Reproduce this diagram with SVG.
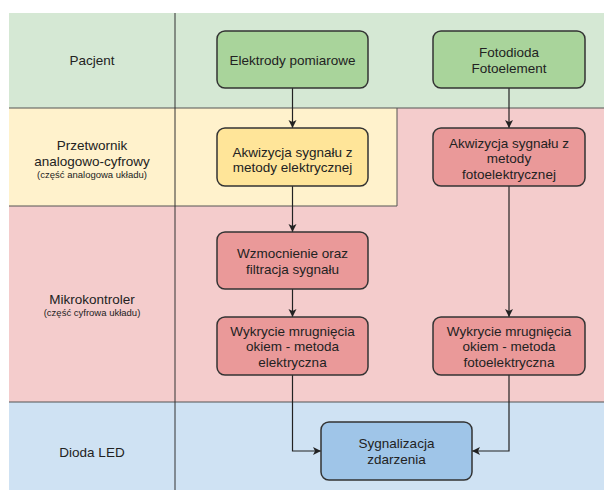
<svg xmlns="http://www.w3.org/2000/svg" width="604" height="490" viewBox="0 0 604 490">
<style>
text{font-family:"Liberation Sans",Arial,sans-serif;fill:#222;text-anchor:middle}
.t{font-size:13.5px}
.s{font-size:9.5px}
.box{stroke:#333;stroke-width:1.5}
.sep{stroke:#555;stroke-width:1;fill:none}
.c{stroke:#222;stroke-width:1.2;fill:none;marker-end:url(#a)}
</style>
<defs>
<marker id="a" markerWidth="10" markerHeight="10" refX="8" refY="4" orient="auto" markerUnits="userSpaceOnUse">
<path d="M0,0 L8,4 L0,8 L2,4 Z" fill="#222"/>
</marker>
</defs>
<rect width="604" height="490" fill="#fff"/>
<g id="lanes">
<rect x="9" y="13" width="595" height="95" fill="#d5e8d4"/>
<rect x="9" y="108" width="595" height="294" fill="#f4cccc"/>
<rect x="9" y="108" width="388" height="98" fill="#fff2cc"/>
<rect x="9" y="402" width="595" height="88" fill="#cfe2f3"/>
<line class="sep" x1="9" y1="108" x2="604" y2="108"/>
<path class="sep" d="M397,108 V206 H9"/>
<line class="sep" x1="9" y1="402" x2="604" y2="402"/>
<line x1="175" y1="13" x2="175" y2="490" stroke="#333" stroke-width="1"/>
<text class="t" x="92" y="65">Pacjent</text>
<text class="t" x="92" y="150">Przetwornik</text>
<text class="t" x="92" y="166">analogowo-cyfrowy</text>
<text class="s" x="92" y="178">(część analogowa układu)</text>
<text class="t" x="92" y="304">Mikrokontroler</text>
<text class="s" x="92" y="316">(część cyfrowa układu)</text>
<text class="t" x="92" y="457">Dioda LED</text>
</g>
<g id="connectors">
<path class="c" d="M292.5,88 V128"/>
<path class="c" d="M292.5,186 V232"/>
<path class="c" d="M292.5,289 V317"/>
<path class="c" d="M292.5,375 V451 H321"/>
<path class="c" d="M509,88 V128"/>
<path class="c" d="M509,186 V317"/>
<path class="c" d="M509,375 V451 H472"/>
</g>
<g id="n1">
<rect class="box" x="217" y="31" width="151" height="57" rx="8" fill="#a9d49b"/>
<text class="t" x="292.5" y="65">Elektrody pomiarowe</text>
</g>
<g id="n2">
<rect class="box" x="433" y="31" width="152" height="57" rx="8" fill="#a9d49b"/>
<text class="t" x="509" y="57">Fotodioda</text>
<text class="t" x="509" y="73">Fotoelement</text>
</g>
<g id="n3">
<rect class="box" x="217" y="128" width="151" height="58" rx="8" fill="#ffe599"/>
<text class="t" x="292.5" y="157">Akwizycja sygnału z</text>
<text class="t" x="292.5" y="172">metody elektrycznej</text>
</g>
<g id="n4">
<rect class="box" x="433" y="128" width="152" height="58" rx="8" fill="#ea9999"/>
<text class="t" x="509" y="148">Akwizycja sygnału z</text>
<text class="t" x="509" y="163">metody</text>
<text class="t" x="509" y="179">fotoelektrycznej</text>
</g>
<g id="n5">
<rect class="box" x="217" y="232" width="151" height="57" rx="8" fill="#ea9999"/>
<text class="t" x="292.5" y="258">Wzmocnienie oraz</text>
<text class="t" x="292.5" y="274">filtracja sygnału</text>
</g>
<g id="n6">
<rect class="box" x="217" y="317" width="151" height="58" rx="8" fill="#ea9999"/>
<text class="t" x="292.5" y="336">Wykrycie mrugnięcia</text>
<text class="t" x="292.5" y="351">okiem - metoda</text>
<text class="t" x="292.5" y="367">elektryczna</text>
</g>
<g id="n7">
<rect class="box" x="433" y="317" width="152" height="58" rx="8" fill="#ea9999"/>
<text class="t" x="509" y="336">Wykrycie mrugnięcia</text>
<text class="t" x="509" y="351">okiem - metoda</text>
<text class="t" x="509" y="367">fotoelektryczna</text>
</g>
<g id="n8">
<rect class="box" x="321" y="422" width="151" height="58" rx="8" fill="#9fc5e8"/>
<text class="t" x="396.5" y="448">Sygnalizacja</text>
<text class="t" x="396.5" y="464">zdarzenia</text>
</g>
</svg>
